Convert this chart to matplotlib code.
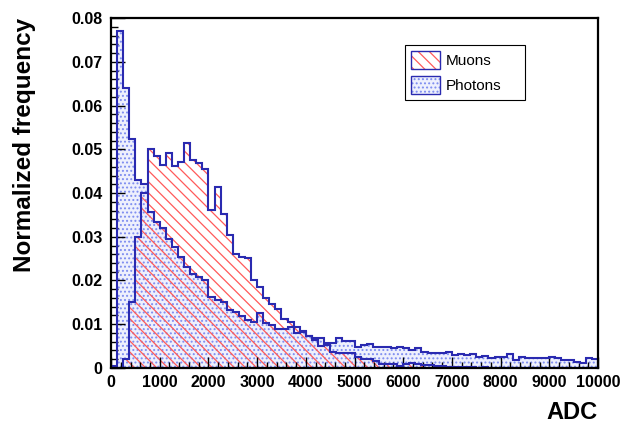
import numpy as np
import matplotlib
matplotlib.use("Agg")
import matplotlib.pyplot as plt
from matplotlib.patches import Patch
from matplotlib.legend_handler import HandlerTuple
from matplotlib.ticker import MultipleLocator, FuncFormatter

# ---- dati (ADC, 80 bin da 125) ----
bin_width = 125
adc_edges = np.arange(0, 10000 + bin_width, bin_width)

muons = [
    0.0, 0.0, 0.0020, 0.0150, 0.0300, 0.0400, 0.0500, 0.0485, 0.0463, 0.0492,
    0.0462, 0.0472, 0.0515, 0.0475, 0.0468, 0.0455, 0.0361, 0.0414, 0.0352, 0.0304,
    0.0261, 0.0253, 0.0251, 0.0200, 0.0186, 0.0160, 0.0146, 0.0135, 0.0112, 0.0104,
    0.0093, 0.0085, 0.0072, 0.0063, 0.0050, 0.0052, 0.0037, 0.0034, 0.0034, 0.0034,
    0.0025, 0.0020, 0.0020, 0.0015, 0.0010, 0.0009, 0.0008, 0.0005, 0.0010, 0.0012,
    0.0008, 0.0007, 0.0006, 0.0005, 0.0004, 0.0003, 0.0003, 0.0002, 0.0002, 0.0002,
    0.0001, 0.0002, 0.0001, 0.0001, 0.0001, 0.0, 0.0001, 0.0, 0.0, 0.0001,
    0.0, 0.0, 0.0, 0.0, 0.0, 0.0, 0.0, 0.0, 0.0, 0.0,
]

photons = [
    0.0005, 0.0770, 0.0640, 0.0523, 0.0430, 0.0420, 0.0357, 0.0334, 0.0319, 0.0296,
    0.0277, 0.0254, 0.0232, 0.0215, 0.0209, 0.0201, 0.0163, 0.0155, 0.0150, 0.0133,
    0.0129, 0.0118, 0.0110, 0.0106, 0.0126, 0.0102, 0.0098, 0.0090, 0.0088, 0.0093,
    0.0080, 0.0083, 0.0073, 0.0068, 0.0068, 0.0058, 0.0058, 0.0068, 0.0062, 0.0062,
    0.0049, 0.0053, 0.0055, 0.0049, 0.0048, 0.0049, 0.0046, 0.0047, 0.0045, 0.0040,
    0.0045, 0.0037, 0.0034, 0.0035, 0.0034, 0.0036, 0.0030, 0.0031, 0.0030, 0.0032,
    0.0026, 0.0028, 0.0022, 0.0025, 0.0025, 0.0032, 0.0018, 0.0024, 0.0022, 0.0022,
    0.0023, 0.0023, 0.0024, 0.0023, 0.0018, 0.0018, 0.0014, 0.0012, 0.0022, 0.0020,
]

OUTLINE = "#2a2ab0"
RED = "#ff5a5a"
DOTS = "#7d8cf0"
DOT_FACE = "#eef0fd"

plt.rcParams["font.family"] = ["Liberation Sans", "DejaVu Sans"]
plt.rcParams["hatch.linewidth"] = 0.9

fig = plt.figure(figsize=(6.22, 4.30), dpi=100)
ax = fig.add_axes([0.1785, 0.1442, 0.9614 - 0.1785, 0.9581 - 0.1442])

# riempimenti
ax.stairs(photons, adc_edges, fill=True, facecolor=DOT_FACE, edgecolor=DOTS,
          hatch="....", linewidth=0, zorder=1)
ax.stairs(muons, adc_edges, fill=True, facecolor="none", edgecolor=RED,
          hatch="\\\\\\", linewidth=0, zorder=1.1)

# contorni
ax.stairs(photons, adc_edges, fill=False, edgecolor=OUTLINE, linewidth=1.5, zorder=3)
ax.stairs(muons, adc_edges, fill=False, edgecolor=OUTLINE, linewidth=1.5, zorder=3)

ax.set_xlim(0, 10000)
ax.set_ylim(0, 0.08)

ax.xaxis.set_major_locator(MultipleLocator(1000))
ax.xaxis.set_minor_locator(MultipleLocator(200))
ax.yaxis.set_major_locator(MultipleLocator(0.01))
ax.yaxis.set_minor_locator(MultipleLocator(0.002))
ax.yaxis.set_major_formatter(FuncFormatter(lambda v, p: "0" if abs(v) < 1e-9 else f"{v:.2f}"))

ax.tick_params(axis="both", which="both", direction="in", color="black", width=1.0,
               labelsize=11.5, top=False, right=False)
ax.tick_params(axis="x", which="major", length=8, pad=5)
ax.tick_params(axis="x", which="minor", length=4)
ax.tick_params(axis="y", which="major", length=10, pad=6)
ax.tick_params(axis="y", which="minor", length=5)
for lab in ax.get_xticklabels() + ax.get_yticklabels():
    lab.set_fontweight("bold")

for sp in ax.spines.values():
    sp.set_linewidth(1.6)
    sp.set_zorder(4)

fig.text(0.04, 0.958, "Normalized frequency", rotation=90, ha="center", va="top",
         fontsize=17.5, fontweight="bold")
fig.text(0.9614, 0.040, "ADC", ha="right", va="center", fontsize=17, fontweight="bold")

# legenda: campione tratteggiato + bordo blu sovrapposti
border = dict(facecolor="none", edgecolor=OUTLINE, linewidth=1.0)
handles = [
    (Patch(facecolor="white", edgecolor=RED, hatch="\\\\\\", linewidth=0), Patch(**border)),
    (Patch(facecolor=DOT_FACE, edgecolor=DOTS, hatch="....", linewidth=0), Patch(**border)),
]
leg = ax.legend(handles, ["Muons", "Photons"], loc="upper left",
                bbox_to_anchor=(0.604, 0.923, 0.246, 0.0), mode="expand",
                handler_map={tuple: HandlerTuple(ndivide=1)},
                fontsize=11, frameon=True, fancybox=False, framealpha=1,
                edgecolor="black", handlelength=1.9, handleheight=1.45,
                borderpad=0.4, labelspacing=0.45, handletextpad=0.35,
                borderaxespad=0)
leg.get_frame().set_linewidth(0.8)

fig.savefig("out.png", dpi=100)
